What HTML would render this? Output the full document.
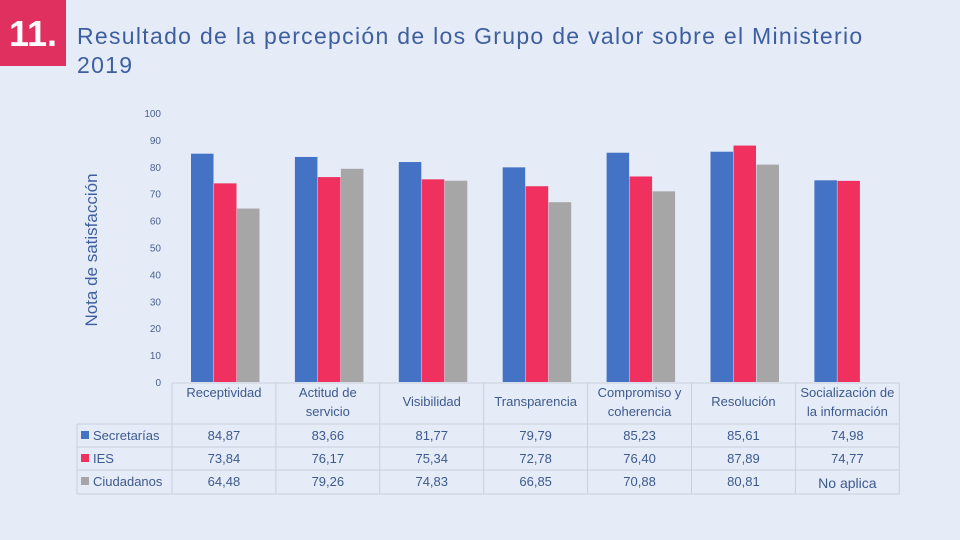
<!DOCTYPE html>
<html><head><meta charset="utf-8"><style>
html,body{margin:0;padding:0;}
body{width:960px;height:540px;background:#e5ebf7;position:relative;overflow:hidden;font-family:"Liberation Sans",sans-serif;}
#badge{position:absolute;left:0;top:0;width:66px;height:66px;background:#e0305f;color:#fff;font-size:36px;font-weight:bold;line-height:68px;text-align:center;}
#title{position:absolute;left:77px;top:22px;color:#3e5f9f;font-size:23px;letter-spacing:1.3px;line-height:29px;}
svg{position:absolute;left:0;top:0;}
</style></head><body>
<div id="badge">11.</div>
<div id="title">Resultado de la percepción de los Grupo de valor sobre el Ministerio<br>2019</div>
<svg id="chart" width="960" height="540"></svg>
<script>
const categories=[["Receptividad"],["Actitud de","servicio"],["Visibilidad"],["Transparencia"],["Compromiso y","coherencia"],["Resolución"],["Socialización de","la información"]];
const seriesNames=["Secretarías","IES","Ciudadanos"];
const secretarias=[84.87,83.66,81.77,79.79,85.23,85.61,74.98];
const ies=[73.84,76.17,75.34,72.78,76.40,87.89,74.77];
const ciudadanos=[64.48,79.26,74.83,66.85,70.88,80.81,null];
const yTicks=[0,10,20,30,40,50,60,70,80,90,100];
const series=[secretarias,ies,ciudadanos];
const colors=["#4472c4","#f0305f","#a6a6a6"];
const NS="http://www.w3.org/2000/svg";
const svg=document.getElementById('chart');
const y0=382,y1=113,yMax=100;
const y=v=>y0-(v/yMax)*(y0-y1);
const colX=172,colW=103.9;
const x=i=>colX+i*colW;
function mk(t,a,txt){const e=document.createElementNS(NS,t);for(const k in a)e.setAttribute(k,a[k]);if(txt!==undefined)e.textContent=txt;svg.appendChild(e);return e;}
const tc="#3d5a8e";
yTicks.forEach(t=>{
 const e=mk('text',{x:161,y:y(t)+4,'text-anchor':'end','font-size':10,fill:'#4a6290'},String(t));
 
 
});
const yl=mk('text',{transform:'translate(97,250) rotate(-90)','text-anchor':'middle','font-size':17,fill:'#3e5f9f'},'Nota de satisfacción');


series.forEach((s,si)=>{
 s.forEach((v,i)=>{
  if(v===null)return;
  const r=mk('rect',{x:x(i)+19+si*23,y:y(v),width:22.5,height:y0-y(v),fill:colors[si]});
  
  
 });
});
const grid="#c9d0dc";
const rows=[424,447,470,494];
const tEnd=x(categories.length);
rows.forEach(ry=>mk('line',{x1:77,y1:ry,x2:tEnd,y2:ry,stroke:grid,'stroke-width':1}));
mk('line',{x1:77,y1:424,x2:77,y2:494,stroke:grid});
for(let i=0;i<=categories.length;i++)mk('line',{x1:x(i),y1:383,x2:x(i),y2:494,stroke:grid});
mk('line',{x1:colX,y1:383,x2:tEnd,y2:383,stroke:grid});
categories.forEach((c,i)=>{
 const cx=x(i)+colW/2;
 const t=mk('text',{x:cx,'text-anchor':'middle','font-size':13,fill:tc});
 
 
 if(c.length===1){t.setAttribute('y',c[0]==="Receptividad"?397:406);t.textContent=c[0];}
 else{c.forEach((ln,k)=>{const ts=document.createElementNS(NS,'tspan');ts.setAttribute('x',cx);ts.setAttribute('y',397+k*19);ts.textContent=ln;t.appendChild(ts);});}
});
seriesNames.forEach((n,si)=>{
 const ry=rows[si]+16;
 mk('rect',{x:81,y:ry-9,width:8,height:8,fill:colors[si]});
 const l=mk('text',{x:93,y:ry,'font-size':13,fill:tc},n);
 
 
 series[si].forEach((v,i)=>{
  const s=v===null?'No aplica':v.toFixed(2).replace('.',',');
  const e=mk('text',{x:x(i)+colW/2,y:ry+(v===null?2:0),'text-anchor':'middle','font-size':v===null?14:13,fill:tc},s);
  
  
 });
});
</script>
</body></html>
